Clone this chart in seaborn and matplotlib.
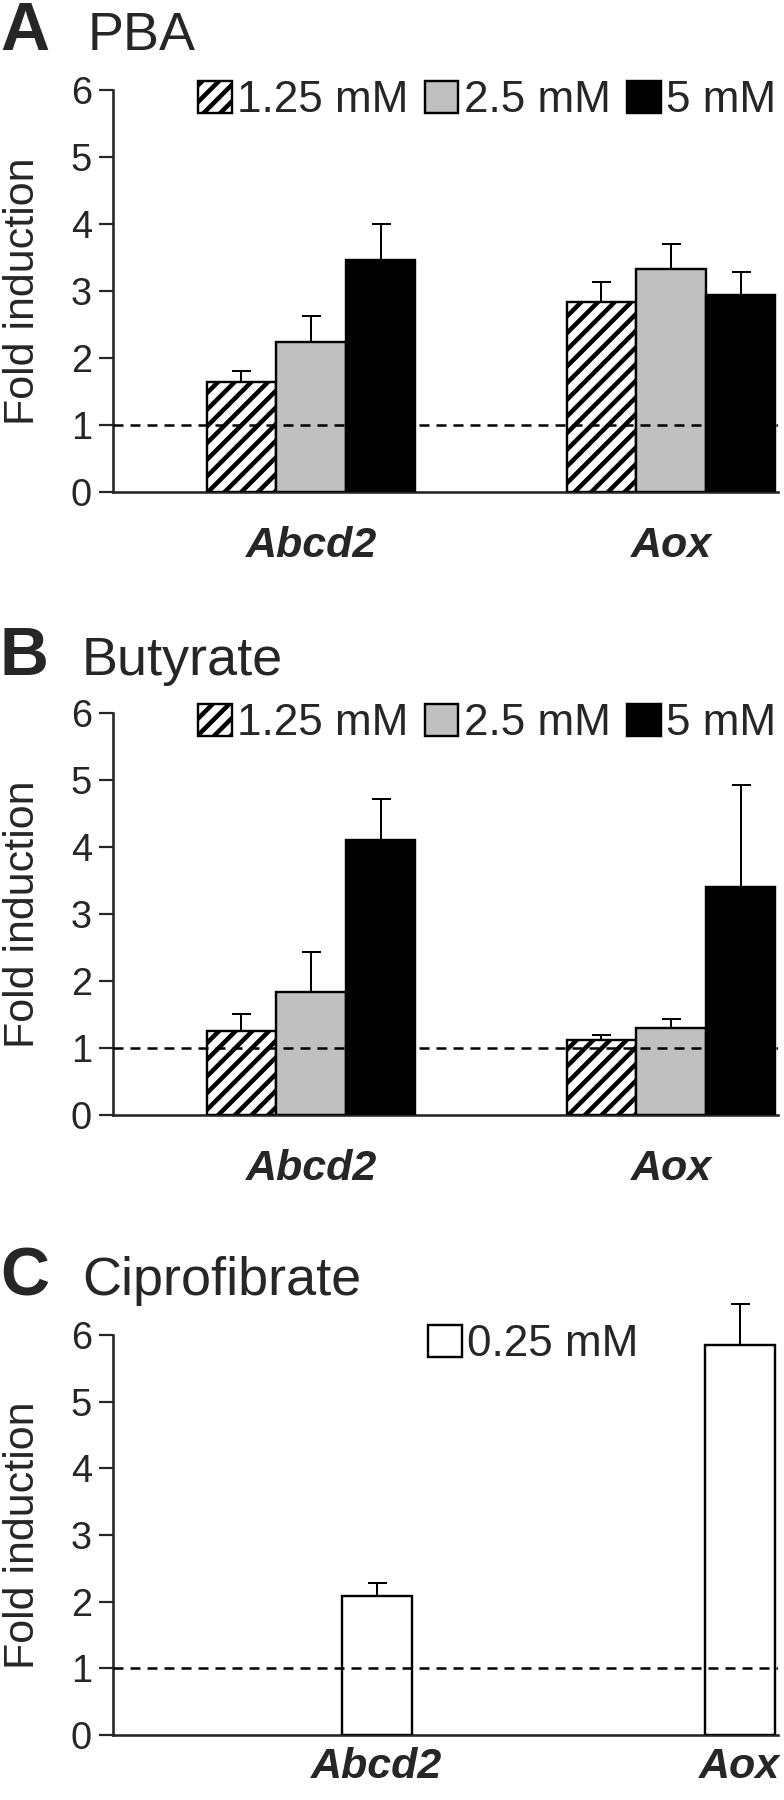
import pandas as pd
import seaborn as sns
import matplotlib.pyplot as plt
import matplotlib as mpl

# Values (fold induction, mean and upper SE)
genes = ['Abcd2', 'Aox']
doses = ['1.25 mM', '2.5 mM', '5 mM']

pba_abcd2 = [1.64, 2.24, 3.46]
pba_aox = [2.83, 3.33, 2.94]
pba_abcd2_err = [0.17, 0.39, 0.54]
pba_aox_err = [0.30, 0.37, 0.34]

but_abcd2 = [1.25, 1.83, 4.11]
but_aox = [1.12, 1.30, 3.40]
but_abcd2_err = [0.26, 0.61, 0.60]
but_aox_err = [0.08, 0.13, 1.53]

cip_dose = '0.25 mM'
cip_vals = [2.08, 5.85]
cip_err = [0.20, 0.62]

DPI = 100


def px(v):
    # pixel size -> points
    return v * 72 / DPI


sns.set_style('ticks')
plt.rcParams['font.family'] = ['Liberation Sans', 'DejaVu Sans']
mpl.rcParams['hatch.linewidth'] = px(4.5)
mpl.rcParams['hatch.color'] = 'black'

custom_palette = {'1.25 mM': 'white', '2.5 mM': '#c0c0c0', '5 mM': 'black', '0.25 mM': 'white'}


def long_df(abcd2, aox):
    rows = []
    for d, a, b in zip(doses, abcd2, aox):
        rows.append({'gene': 'Abcd2', 'dose': d, 'value': a})
        rows.append({'gene': 'Aox', 'dose': d, 'value': b})
    return pd.DataFrame(rows)


def style_axes(ax, xlim, xpad=34):
    ax.set_xlim(*xlim)
    ax.set_ylim(0, 6)
    ax.set_yticks(range(7))
    ax.axhline(1, color='black', lw=px(2.5), ls=(0, (4, 2.8)), zorder=5)
    sns.despine(ax=ax)
    for s in ['left', 'bottom']:
        ax.spines[s].set_linewidth(px(2.6))
    ax.tick_params(axis='y', length=px(14), width=px(2.2), pad=px(7), labelsize=px(38))
    ax.tick_params(axis='x', length=0, pad=px(xpad))
    for t in ax.get_xticklabels():
        t.set_fontsize(px(43))
        t.set_fontweight('bold')
        t.set_fontstyle('italic')
    ax.set_xlabel('')
    ax.set_ylabel('Fold induction', fontsize=px(43))
    ax.yaxis.set_label_coords(-0.105, 0.5)


def add_errors(ax, errs):
    for cont, err in zip(ax.containers, errs):
        xs = [b.get_x() + b.get_width() / 2 for b in cont]
        ys = [b.get_height() for b in cont]
        ax.errorbar(xs, ys, yerr=[[0] * len(err), err], fmt='none', ecolor='black',
                    elinewidth=px(2), capsize=px(9.5), capthick=px(2), zorder=1, clip_on=False)


def grouped_panel(ax, abcd2, aox, abcd2_err, aox_err):
    df = long_df(abcd2, aox)
    sns.barplot(data=df, x='gene', y='value', hue='dose', order=genes, hue_order=doses,
                palette=custom_palette, width=0.58, edgecolor='black', linewidth=px(2.4),
                errorbar=None, ax=ax, zorder=3)
    for bar in ax.containers[0]:
        bar.set_hatch('//')
    add_errors(ax, [list(e) for e in zip(abcd2_err, aox_err)])
    style_axes(ax, (-0.55, 1.297))
    handles = [c[0] for c in ax.containers]
    ax.legend(handles=handles, labels=doses, ncol=3, frameon=False, loc='center left',
              bbox_to_anchor=(0.128, 0.973), fontsize=px(44), handlelength=0.76, handleheight=0.76,
              handletextpad=0.12, columnspacing=0.38, borderpad=0, borderaxespad=0)


fig = plt.figure(figsize=(784 / DPI, 1800 / DPI), dpi=DPI)
left, width, height = 113 / 784, 665 / 784, 402 / 1800
ax_a = fig.add_axes([left, 1 - 492 / 1800, width, height])
ax_b = fig.add_axes([left, 1 - 1115 / 1800, width, height])
ax_c = fig.add_axes([left, 1 - 1735 / 1800, width, 400 / 1800])

grouped_panel(ax_a, pba_abcd2, pba_aox, pba_abcd2_err, pba_aox_err)
grouped_panel(ax_b, but_abcd2, but_aox, but_abcd2_err, but_aox_err)

# Ciprofibrate panel
df_c = pd.DataFrame({'gene': genes, 'dose': cip_dose, 'value': cip_vals})
sns.barplot(data=df_c, x='gene', y='value', hue='dose', order=genes, palette=custom_palette,
            width=0.193, edgecolor='black', linewidth=px(2.4), errorbar=None, ax=ax_c, zorder=3)
add_errors(ax_c, [cip_err])
style_axes(ax_c, (-0.727, 1.105), xpad=12)
ax_c.legend(handles=[ax_c.containers[0][0]], labels=[cip_dose], frameon=False, loc='center left',
            bbox_to_anchor=(0.474, 0.975), fontsize=px(44), handlelength=0.76, handleheight=0.76,
            handletextpad=0.12, borderpad=0, borderaxespad=0)

# Panel letters and titles
for letter, title, y, tx in [('A', 'PBA', 1 - 50 / 1800, 88 / 784),
                             ('B', 'Butyrate', 1 - 675 / 1800, 82 / 784),
                             ('C', 'Ciprofibrate', 1 - 1295 / 1800, 82 / 784)]:
    fig.text(0.0, y, letter, fontsize=px(68), fontweight='bold', va='baseline', ha='left')
    fig.text(tx, y, title, fontsize=px(54), va='baseline', ha='left')

fig.savefig('out.png', dpi=DPI)
